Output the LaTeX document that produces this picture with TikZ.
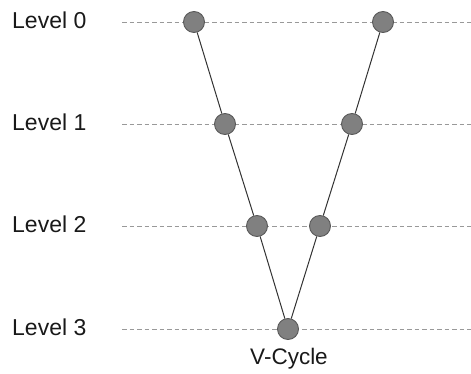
\documentclass[tikz,border=0pt]{standalone}
\usepackage{fontspec}
\setmainfont{Liberation Sans}
\begin{document}
\begin{tikzpicture}[x=1pt,y=-1pt,
  lvl/.style={anchor=west,font=\fontsize{23}{27}\selectfont,text=black!90,inner sep=0pt},
  grid/.style={draw=black!40,line width=0.9pt,dash pattern=on 4.5pt off 3pt},
  pt/.style={circle,fill=black!50,draw=black!65,line width=0.9pt,minimum size=21pt,inner sep=0pt},
  edge/.style={draw=black!80,line width=1pt}]
\useasboundingbox (0,0) rectangle (471,374);
\foreach \i/\y in {0/22,1/124,2/226,3/329}{
  \node[lvl] (L\i) at (12,\y-2) {Level \i};
  \coordinate (s\i) at (122,\y);
  \coordinate (e\i) at (471,\y);
  \draw[grid] (s\i) -- (e\i);
}
\node[pt] (a0) at (194,22) {};
\node[pt] (a1) at (225,124) {};
\node[pt] (a2) at (257,226) {};
\node[pt] (b3) at (288,329) {};
\node[pt] (c2) at (320,226) {};
\node[pt] (c1) at (352,124) {};
\node[pt] (c0) at (383,22) {};
\draw[edge] (a0) -- (a1);
\draw[edge] (a1) -- (a2);
\draw[edge] (a2) -- (b3);
\draw[edge] (b3) -- (c2);
\draw[edge] (c2) -- (c1);
\draw[edge] (c1) -- (c0);
\node[font=\fontsize{22.5}{27}\selectfont,text=black!90,inner sep=0pt] (vc) at (289,359) {V-Cycle};
\end{tikzpicture}
\end{document}
